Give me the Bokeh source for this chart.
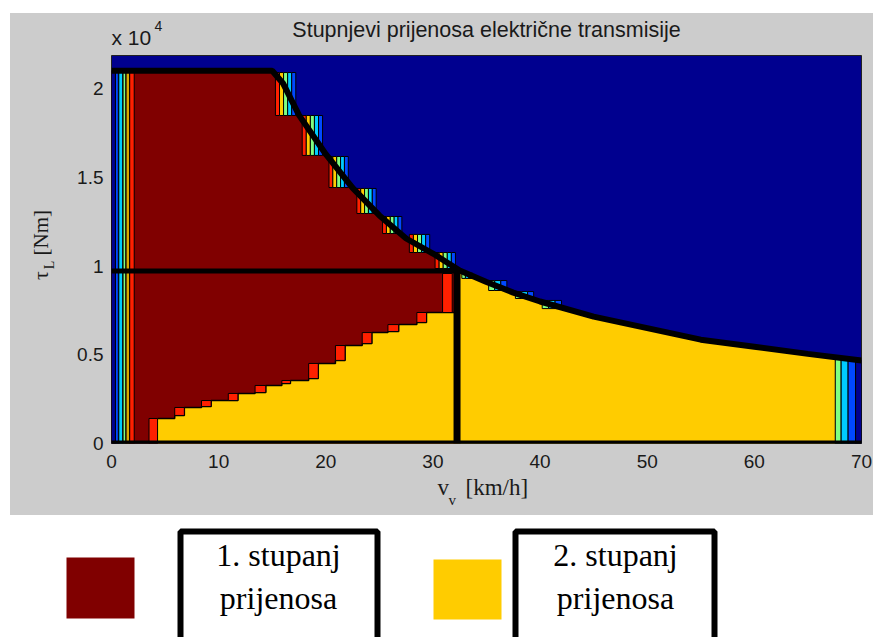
import math
from bokeh.plotting import figure
from bokeh.models import Range1d, FixedTicker, Spacer
from bokeh.layouts import column, row
from bokeh.embed import file_html
from bokeh.resources import INLINE
from bokeh.core.properties import value

# ---------------- data ----------------
# maximum torque envelope  (speed km/h, torque Nm)
env_speed = [0, 15, 16, 17.5, 20, 22.5, 25, 27.5, 30, 32.5, 35, 37.5, 40, 45, 50, 55, 60, 65, 70]
env_torque = [21000, 21000, 20300, 18500, 16300, 14400, 12850, 11550, 10700, 9750,
              9100, 8500, 8000, 7150, 6500, 5850, 5450, 5050, 4680]

# gear shift point (black cross lines)
shift_speed = 32.25
shift_torque = 9720

# 2nd gear (yellow) staircase below the 1st gear region
gear2_left = [4.3, 5.9, 6.8, 8.4, 9.3, 10.9, 11.8, 13.4, 14.4, 15.9, 16.7, 18.4,
              19.3, 20.9, 21.8, 23.4, 24.3, 25.8, 26.8, 28.5, 29.4, 30.9, 31.8]
gear2_top = [1410, 1580, 2030, 2085, 2420, 2420, 2820, 2870, 3270, 3380, 3550, 3660,
             4510, 4680, 5520, 5630, 6250, 6310, 6700, 6820, 7380, 7380, 7380]
gear2_right = gear2_left[1:] + [shift_speed]

# red transition cells on the gear boundary
red_left = [3.5, 5.9, 8.4, 10.9, 13.4, 15.9, 18.4, 20.9, 23.4, 25.8, 28.5, 30.9]
red_right = [4.3, 6.8, 9.3, 11.8, 14.4, 16.7, 19.3, 21.8, 24.3, 26.8, 29.4, 31.8]
red_bottom = [0, 1580, 2085, 2420, 2870, 3380, 3660, 4680, 5630, 6310, 6820, 7380]
red_top = [1410, 2030, 2420, 2820, 3270, 3550, 4510, 5520, 6250, 6700, 7380, 9580]

# colour stripes at the low-speed and high-speed edges
edge_lo_left = [0.0, 0.37, 0.68, 1.08, 1.36, 1.70]
edge_lo_right = [0.37, 0.64, 1.05, 1.34, 1.68, 2.12]
edge_hi_left = [67.55, 68.1, 68.75, 69.45]
edge_hi_right = [68.1, 68.75, 69.45, 70.0]
edge_hi_top = [4850, 4800, 4750, 4700]

# transition cells along the envelope
cell_left = [15.3, 17.8, 20.3, 22.9, 25.3, 27.8, 30.2, 32.7, 35.2, 37.7, 40.2]
cell_right = [17.2, 19.7, 22.1, 24.7, 27.1, 29.7, 32.1, 33.7, 36.9, 39.4, 42.0]
cell_bottom = [18480, 16230, 14420, 12960, 11830, 10760, 9860, 9300, 8620, 8170, 7600]
cell_top = [20900, 18480, 16170, 14370, 12790, 11780, 10760, 9600, 9180, 8560, 8060]

x_ticks = [0, 10, 20, 30, 40, 50, 60, 70]
y_ticks = [0, 5000, 10000, 15000, 20000]
y_tick_labels = ["0", "0.5", "1", "1.5", "2"]

title_text = "Stupnjevi prijenosa električne transmisije"
legend_line1 = ["1. stupanj", "2. stupanj"]
legend_line2 = ["prijenosa", "prijenosa"]

# ---------------- styles ----------------
NAVY = "#00008F"
BLUE = "#0048FF"
CYAN = "#00CCFF"
LGREEN = "#80FF80"
GOLD = "#D8AA00"
YELLOW = "#FFCC00"
RED = "#FF2000"
DARKRED = "#800000"
GREY = "#CCCCCC"
TXT = "#1a1a1a"
SANS = "Liberation Sans"
SERIF = "Liberation Serif"
BASE = 0.4  # offset of the glyph baseline below its anchor, in font sizes


def text_panel(w, h, bg, flip=True):
    f = figure(width=w, height=h, x_range=Range1d(0, w),
               y_range=Range1d(h, 0) if flip else Range1d(0, h),
               output_backend="svg", toolbar_location=None, min_border=0,
               x_axis_location=None, y_axis_location=None)
    f.outline_line_color = None
    f.grid.visible = False
    f.background_fill_color = bg
    f.border_fill_color = bg
    return f


def put(f, x, y, txt, size, font=SANS, align="left", rotated=False, color=TXT):
    s = float(size[:-2])
    if rotated:
        x = x - BASE * s
    else:
        y = y - BASE * s
    f.text(x=[x], y=[y], text=[txt], text_font=value(font), text_font_size=size,
           text_color=color, text_align=align, text_baseline="alphabetic",
           angle=math.pi / 2 if rotated else 0.0)


# ---------------- main chart ----------------
p = figure(width=803, height=425, x_range=Range1d(0, 70), y_range=Range1d(0, 21860),
           output_backend="svg", toolbar_location=None,
           min_border_left=41, min_border_right=12, min_border_top=5, min_border_bottom=32)
p.background_fill_color = NAVY
p.border_fill_color = GREY
p.outline_line_color = "#222222"
p.grid.visible = False

# 1st gear region (under envelope, left of shift speed)
dr_x = [0] + [v for v in env_speed if v < shift_speed] + [shift_speed, shift_speed]
dr_y = [0] + [t for v, t in zip(env_speed, env_torque) if v < shift_speed] + [shift_torque, 0]
p.patch(dr_x, dr_y, fill_color=DARKRED, line_color=None)

# 2nd gear staircase (one polygon)
sx, sy = [], []
for l, r, t in zip(gear2_left, gear2_right, gear2_top):
    sx += [l, r]
    sy += [t, t]
p.patch([gear2_left[0]] + sx + [shift_speed], [0] + sy + [0],
        fill_color=YELLOW, line_color=None)
# 2nd gear region right of the shift speed
hi = [(v, t) for v, t in zip(env_speed, env_torque) if shift_speed < v < edge_hi_left[0]]
y2_x = [shift_speed, shift_speed] + [v for v, t in hi] + [edge_hi_left[0], edge_hi_left[0]]
y2_y = [0, shift_torque] + [t for v, t in hi] + [edge_hi_top[0], 0]
p.patch(y2_x, y2_y, fill_color=YELLOW, line_color=None)

# outline of staircase
p.line(sx, sy, line_color="black", line_width=1.5)

# red transition cells
p.quad(left=red_left, right=red_right, bottom=red_bottom, top=red_top,
       fill_color=RED, line_color="black", line_width=1)

# edge stripes
p.quad(left=edge_lo_left, right=edge_lo_right, bottom=0, top=env_torque[0],
       fill_color=[NAVY, BLUE, CYAN, LGREEN, GOLD, RED], line_color="black", line_width=1)
p.quad(left=edge_hi_left, right=edge_hi_right, bottom=0, top=edge_hi_top,
       fill_color=[LGREEN, CYAN, BLUE, NAVY], line_color="black", line_width=1)

# striped transition cells along the envelope
sl, sr, sb, st, sc = [], [], [], [], []
for i, (l, r, b, t) in enumerate(zip(cell_left, cell_right, cell_bottom, cell_top)):
    cols = [RED, YELLOW, LGREEN, CYAN, BLUE] if i < 7 else [LGREEN, CYAN, BLUE]
    n = len(cols)
    w = (r - l) / n
    for k, c in enumerate(cols):
        sl.append(l + k * w); sr.append(l + (k + 1) * w)
        sb.append(b); st.append(t); sc.append(c)
p.quad(left=sl, right=sr, bottom=sb, top=st, fill_color=sc, line_color="black", line_width=1)

# black lines
p.line(env_speed, env_torque, line_color="black", line_width=6)
p.line([0, shift_speed], [shift_torque, shift_torque], line_color="black", line_width=5)
p.line([shift_speed, shift_speed], [0, shift_torque], line_color="black", line_width=7)
p.line([0, 70], [0, 0], line_color="black", line_width=6)

# axes
p.xaxis.ticker = FixedTicker(ticks=x_ticks)
p.yaxis.ticker = FixedTicker(ticks=y_ticks)
p.yaxis.major_label_overrides = {t: s for t, s in zip(y_ticks, y_tick_labels)}
for ax in (p.xaxis, p.yaxis):
    ax.axis_line_color = None
    ax.major_tick_line_color = None
    ax.minor_tick_line_color = None
    ax.major_tick_out = 0
    ax.major_tick_in = 0
    ax.major_label_text_font = SANS
    ax.major_label_text_font_size = "19px"
    ax.major_label_text_color = TXT
p.xaxis.major_label_standoff = 11
p.yaxis.major_label_standoff = 8

# ---------------- text panels (grey) ----------------
top = text_panel(863, 37, GREY)
put(top, 476, 25.5, title_text, "21.5px", align="center")
put(top, 101, 32, "x 10", "21px")
put(top, 144, 18, "4", "14px")

ylab = text_panel(60, 425, GREY, flip=False)
put(ylab, 39, 179, "τ", "22px", font=SERIF, rotated=True)
put(ylab, 45, 191, "L", "14px", font=SERIF, rotated=True)
put(ylab, 39, 206, "[Nm]", "21px", font=SERIF, rotated=True)

xlab = text_panel(863, 40, GREY)
put(xlab, 427, 21, "v", "23px", font=SERIF)
put(xlab, 438, 30, "v", "15px", font=SERIF)
put(xlab, 455, 21, "[km/h]", "23px", font=SERIF)

# ---------------- legend below ----------------
leg = text_panel(873, 122, "white")
leg.quad(left=[66, 433], right=[134, 501], top=[42, 44], bottom=[103, 104],
         fill_color=[DARKRED, YELLOW], line_color=None)
leg.quad(left=[180, 515], right=[377, 714], top=[16, 16], bottom=[150, 150],
         fill_color="white", line_color="black", line_width=6)
leg.text(x=[278, 615], y=[52 - BASE * 32] * 2, text=legend_line1, text_align="center",
         text_baseline="alphabetic", text_font=value(SERIF),
         text_font_size="32px", text_color="black")
leg.text(x=[278, 615], y=[95 - BASE * 32] * 2, text=legend_line2, text_align="center",
         text_baseline="alphabetic", text_font=value(SERIF),
         text_font_size="32px", text_color="black")

grey_bg = {"background-color": GREY}
chart = column(top, row(ylab, p, styles=grey_bg), xlab, styles=grey_bg)
layout = column(Spacer(height=13), row(Spacer(width=10), chart), leg)
open("out.html", "w").write(file_html(layout, INLINE))
